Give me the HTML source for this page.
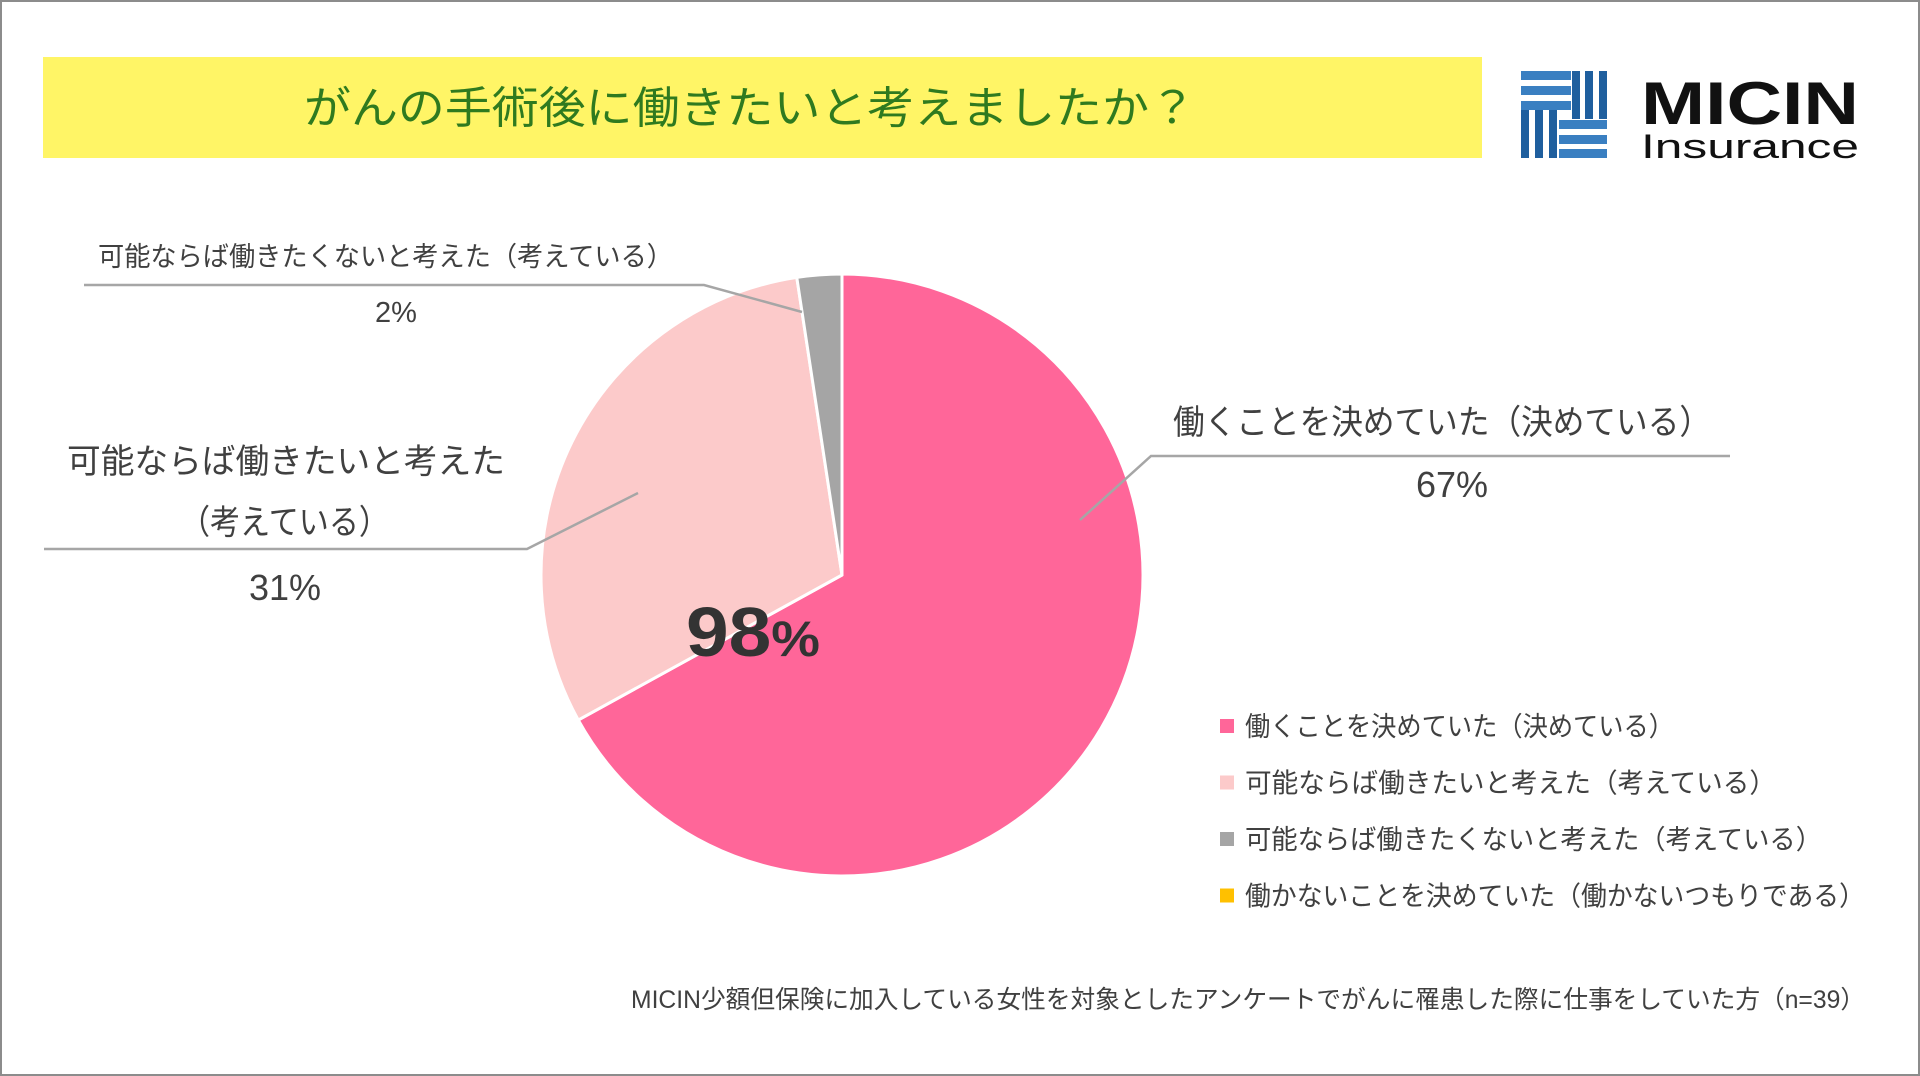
<!DOCTYPE html>
<html><head><meta charset="utf-8"><style>
html,body{margin:0;padding:0;background:#fff}
svg{display:block}
text{font-family:"Liberation Sans","Noto Sans CJK JP",sans-serif}
</style></head><body>
<svg id="chart" width="1920" height="1076" viewBox="0 0 1920 1076">
<rect x="1" y="1" width="1918" height="1074" fill="#fff" stroke="#8c8c8c" stroke-width="2"/>
<rect x="43" y="57" width="1439" height="101" fill="#fff566"/>
<text x="304" y="123" font-size="44" fill="#2f7a1f" textLength="892" lengthAdjust="spacingAndGlyphs">がんの手術後に働きたいと考えましたか？</text>
<g>
<g fill="#3a7fc1">
<rect x="1521" y="71" width="50" height="9"/><rect x="1521" y="86" width="50" height="9"/><rect x="1521" y="101" width="50" height="9"/>
<rect x="1559" y="120" width="48" height="9"/><rect x="1559" y="135" width="48" height="9"/><rect x="1559" y="149" width="48" height="9"/>
</g>
<g fill="#1f5f9e">
<rect x="1572" y="71" width="8" height="48"/><rect x="1585" y="71" width="8" height="48"/><rect x="1599" y="71" width="8" height="48"/>
<rect x="1521" y="110" width="8" height="48"/><rect x="1535" y="110" width="8" height="48"/><rect x="1549" y="110" width="8" height="48"/>
</g>
<text x="1641" y="124" font-size="60" font-weight="bold" fill="#111" textLength="218" lengthAdjust="spacingAndGlyphs">MICIN</text>
<text x="1641" y="158" font-size="34" fill="#111" textLength="218" lengthAdjust="spacingAndGlyphs">Insurance</text>
</g>
<g id="pie"></g>
<g fill="#404040">
<polyline points="1080,520 1151,456 1730,456" fill="none" stroke="#a6a6a6" stroke-width="2.5"/>
<polyline points="638,493 527,549 44,549" fill="none" stroke="#a6a6a6" stroke-width="2.5"/>
<polyline points="802,312 704,285 84,285" fill="none" stroke="#a6a6a6" stroke-width="2.5"/>
<text x="1173" y="434" font-size="34" textLength="538" lengthAdjust="spacingAndGlyphs">働くことを決めていた（決めている）</text>
<text id="pct0" x="1452" y="497" font-size="36" text-anchor="middle"></text>
<text x="67" y="473" font-size="34" textLength="438" lengthAdjust="spacingAndGlyphs">可能ならば働きたいと考えた</text>
<text x="180" y="534" font-size="34" textLength="209" lengthAdjust="spacingAndGlyphs">（考えている）</text>
<text id="pct1" x="285" y="600" font-size="36" text-anchor="middle"></text>
<text x="98" y="266" font-size="27" textLength="575" lengthAdjust="spacingAndGlyphs">可能ならば働きたくないと考えた（考えている）</text>
<text id="pct2" x="396" y="322" font-size="29" text-anchor="middle"></text>
</g>
<text x="686" y="656" font-size="70" font-weight="bold" fill="#333" textLength="134" lengthAdjust="spacingAndGlyphs">98<tspan font-size="50">%</tspan></text>
<g id="legend"></g>
<text x="1865" y="1008" font-size="25" fill="#404040" text-anchor="end" textLength="1234" lengthAdjust="spacingAndGlyphs">MICIN少額但保険に加入している女性を対象としたアンケートでがんに罹患した際に仕事をしていた方（n=39）</text>
</svg>
<script>
const categories = ["働くことを決めていた（決めている）","可能ならば働きたいと考えた（考えている）","可能ならば働きたくないと考えた（考えている）","働かないことを決めていた（働かないつもりである）"];
const values = [67, 30.6, 2.4, 0];
const valueLabels = ["67%", "31%", "2%", "0%"];
const colors = ["#ff6699", "#fccaca", "#a5a5a5", "#ffc000"];
const NS = "http://www.w3.org/2000/svg";
const cx = 842, cy = 575, r = 301;
const total = values.reduce((a,b)=>a+b,0);
const pie = document.getElementById('pie');
let acc = 0;
function pt(frac){const a = frac*2*Math.PI - Math.PI/2; return [cx + r*Math.cos(a), cy + r*Math.sin(a)];}
values.forEach((v,i)=>{
  if(v<=0) return;
  const s = acc/total, e = (acc+v)/total; acc += v;
  const p0 = pt(s), p1 = pt(e);
  const large = (e-s) > 0.5 ? 1 : 0;
  const path = document.createElementNS(NS,'path');
  path.setAttribute('d',`M${cx},${cy} L${p0[0]},${p0[1]} A${r},${r} 0 ${large} 1 ${p1[0]},${p1[1]} Z`);
  path.setAttribute('fill',colors[i]);
  path.setAttribute('stroke','#fff');
  path.setAttribute('stroke-width','3');
  path.setAttribute('stroke-linejoin','round');
  
  
  pie.appendChild(path);
});
[0,1,2].forEach(i=>{document.getElementById('pct'+i).textContent = valueLabels[i];});
const legend = document.getElementById('legend');
const lw = [429, 531, 577, 620];
categories.forEach((c,i)=>{
  const y = 726 + i*56.5;
  const sq = document.createElementNS(NS,'rect');
  sq.setAttribute('x',1220); sq.setAttribute('y',y-7); sq.setAttribute('width',14); sq.setAttribute('height',14);
  sq.setAttribute('fill',colors[i]);
  
  
  legend.appendChild(sq);
  const t = document.createElementNS(NS,'text');
  t.setAttribute('x',1245); t.setAttribute('y',y+10);
  t.setAttribute('font-size','27'); t.setAttribute('fill','#404040');
  t.setAttribute('textLength',lw[i]); t.setAttribute('lengthAdjust','spacingAndGlyphs');
  t.textContent = c;
  
  
  legend.appendChild(t);
});
</script>
</body></html>
